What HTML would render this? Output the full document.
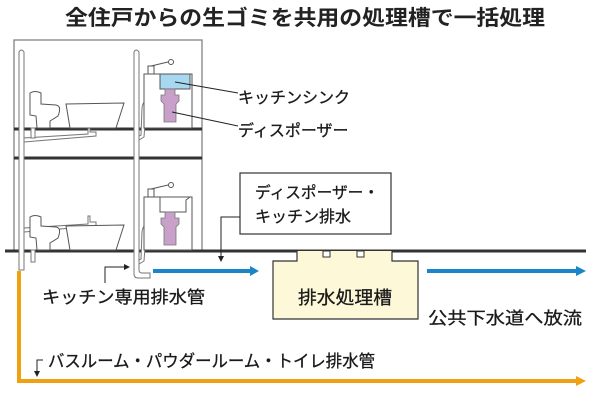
<!DOCTYPE html>
<html><head><meta charset="utf-8"><style>
html,body{margin:0;padding:0;background:#fff;}
svg{display:block;font-family:"Liberation Sans","Noto Sans CJK JP",sans-serif;}
</style></head><body>
<svg width="600" height="416" viewBox="0 0 600 416" xmlns="http://www.w3.org/2000/svg">
<text x="65" y="25" font-size="21" font-weight="bold" textLength="480" lengthAdjust="spacingAndGlyphs" fill="#222">全住戸からの生ゴミを共用の処理槽で一括処理</text>
<!-- building -->
<rect x="14" y="40" width="188" height="211" fill="none" stroke="#777" stroke-width="1.2"/>
<line x1="14" y1="129" x2="202" y2="129" stroke="#333" stroke-width="3"/>
<line x1="14" y1="158" x2="202" y2="158" stroke="#333" stroke-width="3"/>
<line x1="5" y1="251" x2="586" y2="251" stroke="#333" stroke-width="3"/>
<!-- pipes (outline) -->
<g fill="#fff" stroke="#777" stroke-width="1">
<path d="M19 52 Q21 48 24 52 L24 270 L19 270 Z"/>
<path d="M134 52 Q136 48 139 52 L139 270 Q139 273 142 273 L150 273 L150 278 L138 278 Q134 278 134 274 Z"/>
<path d="M24 142 L96 136 L96 132 L90 132 L90 126 L88 126 L88 134 L24 138 Z"/>
<path d="M24 232 L96 226 L96 222 L90 222 L90 216 L88 216 L88 224 L24 228 Z"/>
<path d="M139 140 L144 137 L146 110 Q146 104 150 104 L152 104 L152 100 L149 100 Q143 100 142 108 L141 135 L139 136 Z"/>
<path d="M139 264 L144 261 L146 234 Q146 228 150 228 L152 228 L152 224 L149 224 Q143 224 142 232 L141 259 L139 260 Z"/>
<path d="M31 128 L31 138 L35 138 L35 128 Z"/>
<path d="M31 250 L31 262 L35 262 L35 250 Z"/>
</g>
<!-- toilets and tubs -->
<g fill="#fff" stroke="#555" stroke-width="1">
<path d="M30 93 Q35 90 41 93 L41 104 L56 105 Q62 106 58 116 L50 121 L50 128 L37 128 L36 116 L30 115 Z"/>
<path d="M66 104 L124 103 L116 128 L70 128 Z"/>
<path d="M30 217 Q35 214 41 217 L41 226 L56 227 Q62 228 58 238 L50 243 L50 250 L37 250 L36 238 L30 237 Z"/>
<path d="M66 226 L124 225 L116 250 L70 250 Z"/>
<rect x="144" y="74" width="48" height="54"/>
<rect x="148" y="66" width="6" height="8"/>
<line x1="151" y1="66" x2="168" y2="62"/>
<circle cx="171" cy="62" r="2.5"/>
<rect x="144" y="197" width="48" height="53"/>
<rect x="148" y="189" width="6" height="8"/>
<line x1="151" y1="189" x2="168" y2="185"/>
<circle cx="171" cy="185" r="2.5"/>
</g>
<rect x="160" y="74" width="30" height="15" fill="#a8d8f0" stroke="#555" stroke-width="1"/>
<path d="M160 197 L160 212 L186 212 L186 200 L190 197" fill="none" stroke="#555"/>
<path d="M165 89 h10 v6 h4 v6 l-3 3 v18 h-12 v-18 l-3 -3 v-6 h4z" fill="#c9a0c9" stroke="#777" stroke-width="0.8"/>
<path d="M165 212 h10 v6 h4 v6 l-3 3 v18 h-12 v-18 l-3 -3 v-6 h4z" fill="#c9a0c9" stroke="#777" stroke-width="0.8"/>
<!-- callout lines -->
<line x1="175" y1="82" x2="238" y2="93" stroke="#222"/>
<line x1="172" y1="112" x2="238" y2="126" stroke="#222"/>
<g fill="#1a1a1a" stroke="#1a1a1a" stroke-width="0.3">
<text x="238" y="103" font-size="16">キッチンシンク</text>
<text x="238" y="136" font-size="16">ディスポーザー</text>
</g>
<!-- label box -->
<rect x="240" y="173" width="151" height="61" fill="#fff" stroke="#333" stroke-width="1.2"/>
<g fill="#1a1a1a" stroke="#1a1a1a" stroke-width="0.3">
<text x="255" y="198" font-size="16" textLength="124" lengthAdjust="spacingAndGlyphs">ディスポーザー・</text>
<text x="255" y="222" font-size="16">キッチン排水</text>
</g>
<path d="M240 217 H221 V258" fill="none" stroke="#222"/>
<path d="M218 256 L221 262 L224 256 Z" fill="#222"/>
<path d="M105 283 V267 H126" fill="none" stroke="#222"/>
<path d="M124 264 L130 267 L124 270 Z" fill="#222"/>
<!-- tank -->
<path d="M297 251 V261 H273 V319 H418 V261 H392 V251" fill="#fdf8d8" stroke="#333" stroke-width="1.2"/>
<rect x="323" y="251" width="7" height="6" fill="#fff" stroke="#333"/>
<rect x="357" y="251" width="7" height="6" fill="#fff" stroke="#333"/>
<!-- blue arrows -->
<line x1="153" y1="271" x2="252" y2="271" stroke="#1a86c8" stroke-width="4"/>
<path d="M250 266 L259 271 L250 276 Z" fill="#1a86c8"/>
<line x1="427" y1="271" x2="578" y2="271" stroke="#1a86c8" stroke-width="4"/>
<path d="M576 266 L586 271 L576 276 Z" fill="#1a86c8"/>
<!-- orange -->
<path d="M19 271 V381 H578" fill="none" stroke="#f0a010" stroke-width="4"/>
<path d="M576 376 L586 381 L576 386 Z" fill="#f0a010"/>
<g fill="#1a1a1a" stroke="#1a1a1a" stroke-width="0.3">
<text x="298" y="304" font-size="18" textLength="94" lengthAdjust="spacingAndGlyphs">排水処理槽</text>
<text x="42" y="303" font-size="17" textLength="163" lengthAdjust="spacingAndGlyphs">キッチン専用排水管</text>
<text x="428" y="324" font-size="17" textLength="154" lengthAdjust="spacingAndGlyphs">公共下水道へ放流</text>
<text x="48" y="367" font-size="17" textLength="327" lengthAdjust="spacingAndGlyphs">バスルーム・パウダールーム・トイレ排水管</text>
</g>
<path d="M43 360 H37 V373" fill="none" stroke="#222"/>
<path d="M34 371 L37 377 L40 371 Z" fill="#222"/>
</svg>
</body></html>
